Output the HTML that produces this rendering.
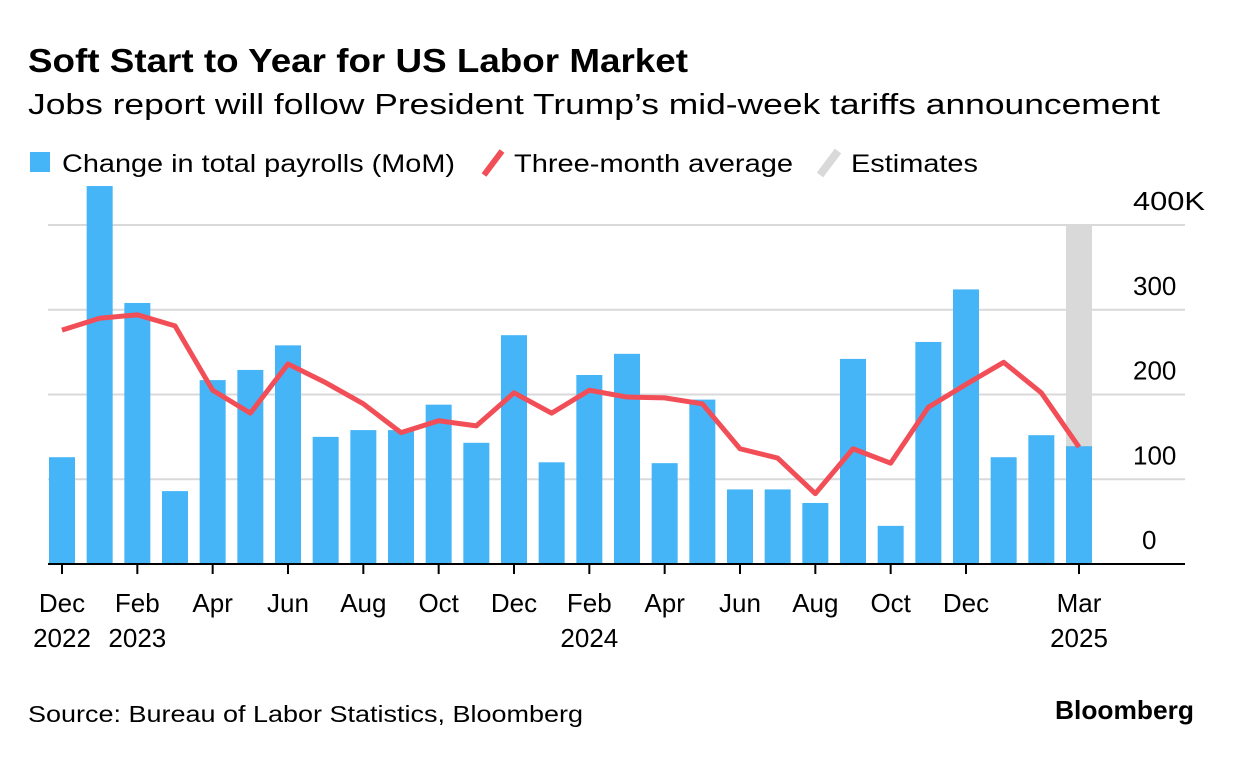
<!DOCTYPE html>
<html><head><meta charset="utf-8"><style>
body{margin:0;background:#fff;width:1233px;height:754px;overflow:hidden;font-family:"Liberation Sans",sans-serif}
</style></head><body>
<svg width="1233" height="754" style="font-family:'Liberation Sans',sans-serif">
<text x="28" y="72" font-size="33" font-weight="bold" fill="#000" textLength="660" lengthAdjust="spacingAndGlyphs">Soft Start to Year for US Labor Market</text>
<text x="28" y="114" font-size="29" fill="#000" textLength="1132" lengthAdjust="spacingAndGlyphs">Jobs report will follow President Trump’s mid-week tariffs announcement</text>
<g font-size="25">
<rect x="30" y="152" width="20" height="20" fill="#45b5f7"/>
<text x="62" y="172" textLength="393" lengthAdjust="spacingAndGlyphs">Change in total payrolls (MoM)</text>
<line x1="484" y1="175" x2="502" y2="151" stroke="#f24e57" stroke-width="6"/>
<text x="514" y="172" textLength="279" lengthAdjust="spacingAndGlyphs">Three-month average</text>
<line x1="820" y1="175" x2="838" y2="151" stroke="#d9d9d9" stroke-width="8"/>
<text x="851" y="172" textLength="127" lengthAdjust="spacingAndGlyphs">Estimates</text>
</g>
<g id="grid"></g><g id="est"></g><g id="bars"></g><g id="line"></g><g id="axes"></g>
<text x="28" y="722" font-size="23" textLength="555" lengthAdjust="spacingAndGlyphs">Source: Bureau of Labor Statistics, Bloomberg</text>
<text x="1055" y="719" font-size="26" font-weight="bold" textLength="139" lengthAdjust="spacingAndGlyphs">Bloomberg</text>
</svg>
<script>
const months = ["Dec22","Jan23","Feb23","Mar23","Apr23","May23","Jun23","Jul23","Aug23","Sep23","Oct23","Nov23","Dec23","Jan24","Feb24","Mar24","Apr24","May24","Jun24","Jul24","Aug24","Sep24","Oct24","Nov24","Dec24","Jan25","Feb25","Mar25"];
const payrolls = [126,446,308,86,217,229,258,150,158,158,188,143,270,120,223,248,119,194,88,88,72,242,45,262,324,126,152,139];
const avg3m = [276,290,294,281,205,178,236,214,189,155,169,163,202,178,205,197,196,189,136,125,83,136,119,185,212,238,202,138];
const yTicks = [0,100,200,300,400];
const yTickLabels = ["0","100","200","300","400K"];
const xTickLabels = [["Dec","2022"],["Feb","2023"],["Apr",""],["Jun",""],["Aug",""],["Oct",""],["Dec",""],["Feb","2024"],["Apr",""],["Jun",""],["Aug",""],["Oct",""],["Dec",""],["",""],["Mar","2025"]];
const xTickIdx = [0,2,4,6,8,10,12,14,16,18,20,22,24,-1,27];
const estimateIdx = [27];
const NS="http://www.w3.org/2000/svg";
const X0=62, DX=(1079-62)/27, Y0=564, K=0.8475;
const x=i=>X0+i*DX, y=v=>Y0-v*K;
function mk(t,a,p){const e=document.createElementNS(NS,t);for(const k in a)e.setAttribute(k,a[k]);document.getElementById(p).appendChild(e);return e;}
yTicks.forEach((v,i)=>{
 if(v>0){const l=mk('line',{x1:48,x2:1185,y1:y(v),y2:y(v),stroke:'#d9d9d9','stroke-width':2},'grid');
 
 }
 const t=mk('text',{x:v==0?1142:1133,y:y(v)-15,'font-size':26},'axes');t.textContent=yTickLabels[i];
 if(v==400){t.setAttribute('textLength',72);t.setAttribute('lengthAdjust','spacingAndGlyphs');}
 
 
});
estimateIdx.forEach(i=>{const r=mk('rect',{x:x(i)-13,y:y(400),width:26,height:Y0-y(400),fill:'#d9d9d9'},'est');
 
 });
payrolls.forEach((v,i)=>{const r=mk('rect',{x:x(i)-13,y:y(v),width:26,height:v*K,fill:'#45b5f7'},'bars');
 
 });
const p=mk('polyline',{points:avg3m.map((v,i)=>x(i)+','+y(v)).join(' '),fill:'none',stroke:'#f24e57','stroke-width':5,'stroke-linejoin':'round'},'line');


const ax=mk('line',{x1:48,x2:1185,y1:Y0,y2:Y0,stroke:'#000','stroke-width':2},'axes');


xTickIdx.forEach((idx,j)=>{
 if(idx<0)return;
 const tk=mk('line',{x1:x(idx),x2:x(idx),y1:Y0,y2:Y0+10,stroke:'#000','stroke-width':2},'axes');
 
 
 xTickLabels[j].forEach((s,k)=>{if(!s)return;
  const t=mk('text',{x:x(idx),y:612+k*35,'font-size':26,'text-anchor':'middle'},'axes');t.textContent=s;
  
  });
});
</script>
</body></html>
